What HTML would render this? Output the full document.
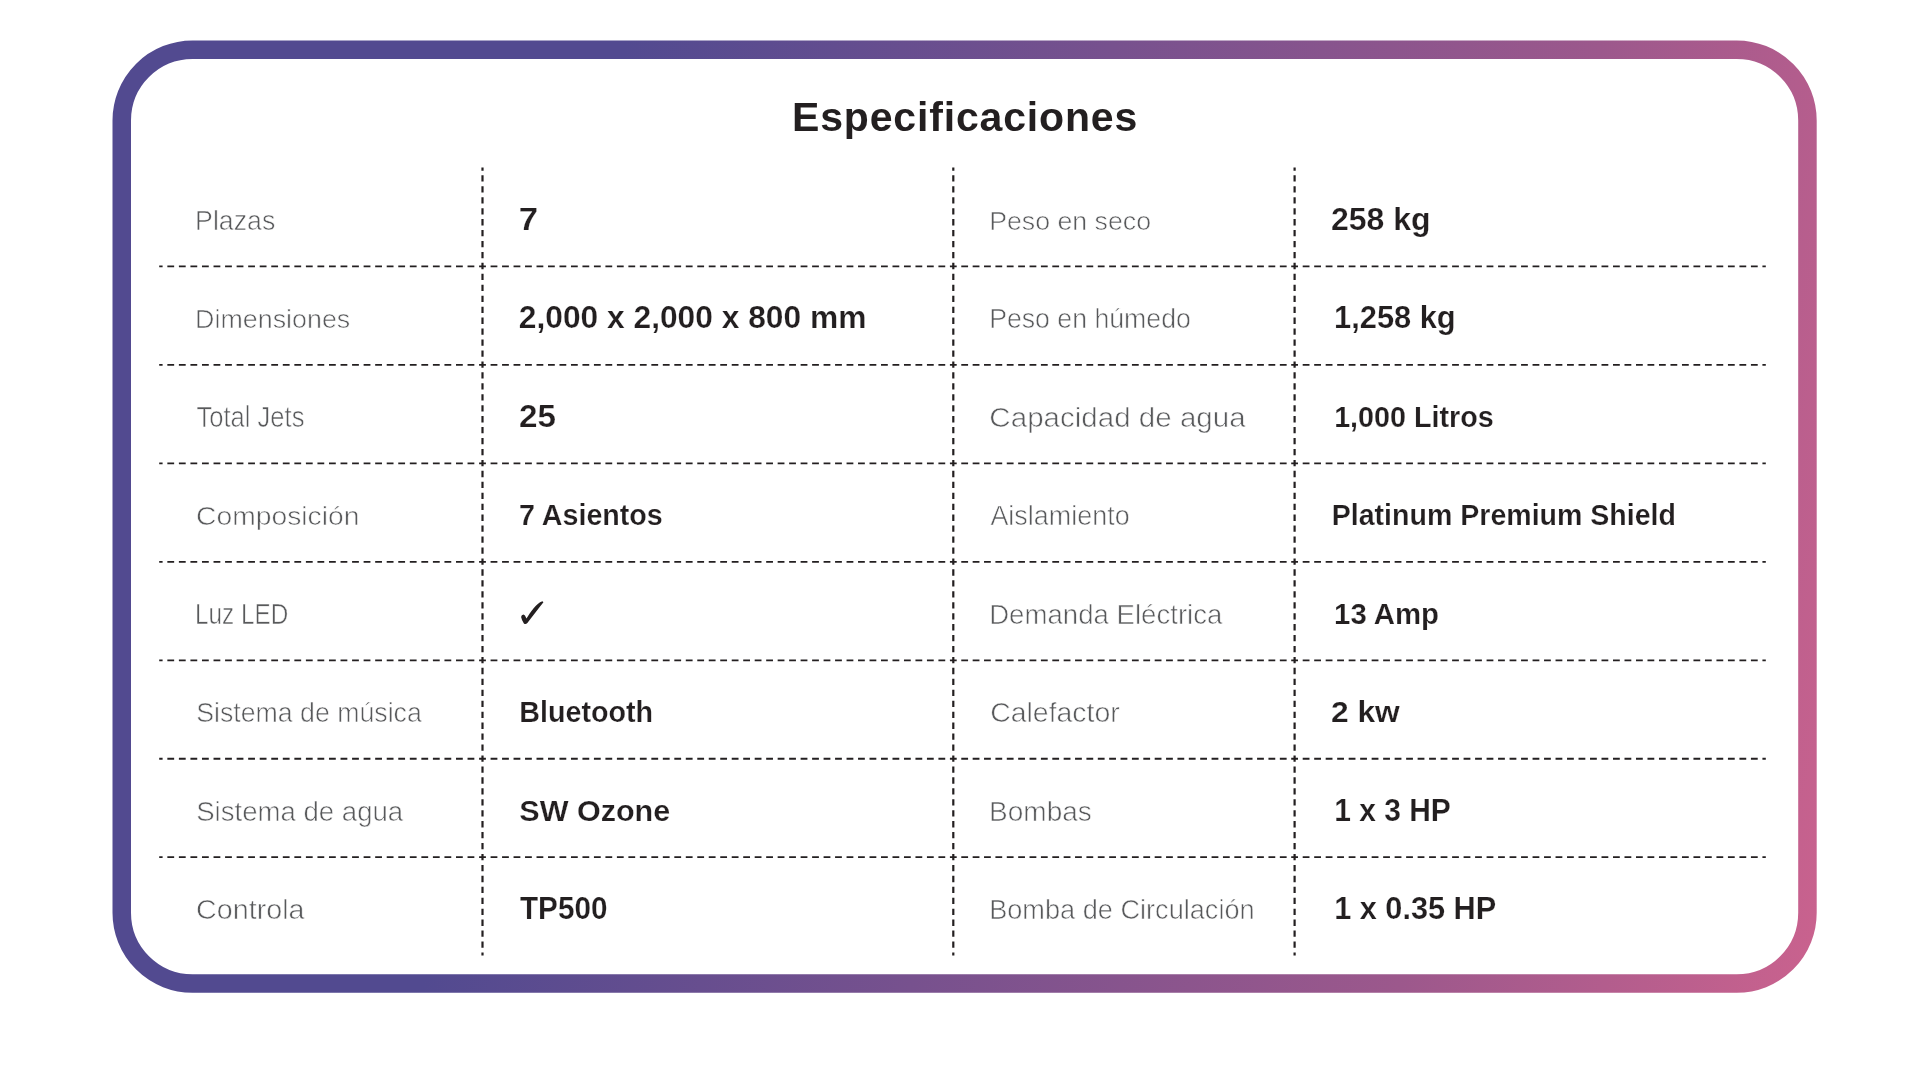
<!DOCTYPE html>
<html><head><meta charset="utf-8"><title>Especificaciones</title>
<style>
html,body{margin:0;padding:0;background:#fff;width:1920px;height:1080px;overflow:hidden;}
svg{position:absolute;left:0;top:0;display:block;will-change:transform;}
text{font-family:"Liberation Sans", sans-serif;}
</style></head><body>
<svg width="1920" height="1080" viewBox="0 0 1920 1080">
<defs><linearGradient id="bg" gradientUnits="userSpaceOnUse" x1="606.4" y1="130" x2="1930.6" y2="413.8"><stop offset="0" stop-color="#524a90"/><stop offset="0.705" stop-color="#9c588c"/><stop offset="1" stop-color="#c9628e"/></linearGradient></defs>
<rect x="121.75" y="49.75" width="1685.7" height="933.8" rx="70.75" ry="70.75" fill="none" stroke="url(#bg)" stroke-width="18.5"/>
<line x1="159.2" y1="266.40" x2="482.5" y2="266.40" stroke="#231f20" stroke-width="1.8" stroke-dasharray="6.8 4.746" stroke-dashoffset="3.4"/>
<line x1="482.5" y1="266.40" x2="953.3" y2="266.40" stroke="#231f20" stroke-width="1.8" stroke-dasharray="6.8 4.683" stroke-dashoffset="3.4"/>
<line x1="953.3" y1="266.40" x2="1294.6" y2="266.40" stroke="#231f20" stroke-width="1.8" stroke-dasharray="6.8 4.577" stroke-dashoffset="3.4"/>
<line x1="1294.6" y1="266.40" x2="1765.8" y2="266.40" stroke="#231f20" stroke-width="1.8" stroke-dasharray="6.8 4.693" stroke-dashoffset="3.4"/>
<line x1="159.2" y1="364.87" x2="482.5" y2="364.87" stroke="#231f20" stroke-width="1.8" stroke-dasharray="6.8 4.746" stroke-dashoffset="3.4"/>
<line x1="482.5" y1="364.87" x2="953.3" y2="364.87" stroke="#231f20" stroke-width="1.8" stroke-dasharray="6.8 4.683" stroke-dashoffset="3.4"/>
<line x1="953.3" y1="364.87" x2="1294.6" y2="364.87" stroke="#231f20" stroke-width="1.8" stroke-dasharray="6.8 4.577" stroke-dashoffset="3.4"/>
<line x1="1294.6" y1="364.87" x2="1765.8" y2="364.87" stroke="#231f20" stroke-width="1.8" stroke-dasharray="6.8 4.693" stroke-dashoffset="3.4"/>
<line x1="159.2" y1="463.34" x2="482.5" y2="463.34" stroke="#231f20" stroke-width="1.8" stroke-dasharray="6.8 4.746" stroke-dashoffset="3.4"/>
<line x1="482.5" y1="463.34" x2="953.3" y2="463.34" stroke="#231f20" stroke-width="1.8" stroke-dasharray="6.8 4.683" stroke-dashoffset="3.4"/>
<line x1="953.3" y1="463.34" x2="1294.6" y2="463.34" stroke="#231f20" stroke-width="1.8" stroke-dasharray="6.8 4.577" stroke-dashoffset="3.4"/>
<line x1="1294.6" y1="463.34" x2="1765.8" y2="463.34" stroke="#231f20" stroke-width="1.8" stroke-dasharray="6.8 4.693" stroke-dashoffset="3.4"/>
<line x1="159.2" y1="561.81" x2="482.5" y2="561.81" stroke="#231f20" stroke-width="1.8" stroke-dasharray="6.8 4.746" stroke-dashoffset="3.4"/>
<line x1="482.5" y1="561.81" x2="953.3" y2="561.81" stroke="#231f20" stroke-width="1.8" stroke-dasharray="6.8 4.683" stroke-dashoffset="3.4"/>
<line x1="953.3" y1="561.81" x2="1294.6" y2="561.81" stroke="#231f20" stroke-width="1.8" stroke-dasharray="6.8 4.577" stroke-dashoffset="3.4"/>
<line x1="1294.6" y1="561.81" x2="1765.8" y2="561.81" stroke="#231f20" stroke-width="1.8" stroke-dasharray="6.8 4.693" stroke-dashoffset="3.4"/>
<line x1="159.2" y1="660.28" x2="482.5" y2="660.28" stroke="#231f20" stroke-width="1.8" stroke-dasharray="6.8 4.746" stroke-dashoffset="3.4"/>
<line x1="482.5" y1="660.28" x2="953.3" y2="660.28" stroke="#231f20" stroke-width="1.8" stroke-dasharray="6.8 4.683" stroke-dashoffset="3.4"/>
<line x1="953.3" y1="660.28" x2="1294.6" y2="660.28" stroke="#231f20" stroke-width="1.8" stroke-dasharray="6.8 4.577" stroke-dashoffset="3.4"/>
<line x1="1294.6" y1="660.28" x2="1765.8" y2="660.28" stroke="#231f20" stroke-width="1.8" stroke-dasharray="6.8 4.693" stroke-dashoffset="3.4"/>
<line x1="159.2" y1="758.75" x2="482.5" y2="758.75" stroke="#231f20" stroke-width="1.8" stroke-dasharray="6.8 4.746" stroke-dashoffset="3.4"/>
<line x1="482.5" y1="758.75" x2="953.3" y2="758.75" stroke="#231f20" stroke-width="1.8" stroke-dasharray="6.8 4.683" stroke-dashoffset="3.4"/>
<line x1="953.3" y1="758.75" x2="1294.6" y2="758.75" stroke="#231f20" stroke-width="1.8" stroke-dasharray="6.8 4.577" stroke-dashoffset="3.4"/>
<line x1="1294.6" y1="758.75" x2="1765.8" y2="758.75" stroke="#231f20" stroke-width="1.8" stroke-dasharray="6.8 4.693" stroke-dashoffset="3.4"/>
<line x1="159.2" y1="857.22" x2="482.5" y2="857.22" stroke="#231f20" stroke-width="1.8" stroke-dasharray="6.8 4.746" stroke-dashoffset="3.4"/>
<line x1="482.5" y1="857.22" x2="953.3" y2="857.22" stroke="#231f20" stroke-width="1.8" stroke-dasharray="6.8 4.683" stroke-dashoffset="3.4"/>
<line x1="953.3" y1="857.22" x2="1294.6" y2="857.22" stroke="#231f20" stroke-width="1.8" stroke-dasharray="6.8 4.577" stroke-dashoffset="3.4"/>
<line x1="1294.6" y1="857.22" x2="1765.8" y2="857.22" stroke="#231f20" stroke-width="1.8" stroke-dasharray="6.8 4.693" stroke-dashoffset="3.4"/>
<line x1="482.5" y1="167.50" x2="482.5" y2="955.60" stroke="#231f20" stroke-width="2.2" stroke-dasharray="6.3 4.646" stroke-dashoffset="3.15"/>
<line x1="953.3" y1="167.50" x2="953.3" y2="955.60" stroke="#231f20" stroke-width="2.2" stroke-dasharray="6.3 4.646" stroke-dashoffset="3.15"/>
<line x1="1294.6" y1="167.50" x2="1294.6" y2="955.60" stroke="#231f20" stroke-width="2.2" stroke-dasharray="6.3 4.646" stroke-dashoffset="3.15"/>
<text x="791.96" y="131.40" font-size="41.0" font-weight="700" fill="#231f20" textLength="345.26" lengthAdjust="spacing">Especificaciones</text>
<text x="195.10" y="229.60" font-size="27.84" font-weight="400" fill="#58595b" stroke="#fff" stroke-width="0.6" textLength="80.17" lengthAdjust="spacingAndGlyphs">Plazas</text>
<text x="518.86" y="229.60" font-size="31.07" font-weight="700" fill="#231f20" stroke="#fff" stroke-width="0.2" textLength="19.33" lengthAdjust="spacingAndGlyphs">7</text>
<text x="989.13" y="229.60" font-size="26.64" font-weight="400" fill="#58595b" stroke="#fff" stroke-width="0.6" textLength="161.93" lengthAdjust="spacingAndGlyphs">Peso en seco</text>
<text x="1330.97" y="229.60" font-size="30.62" font-weight="700" fill="#231f20" stroke="#fff" stroke-width="0.2" textLength="99.48" lengthAdjust="spacingAndGlyphs">258 kg</text>
<text x="195.13" y="328.10" font-size="26.59" font-weight="400" fill="#58595b" stroke="#fff" stroke-width="0.6" textLength="155.11" lengthAdjust="spacingAndGlyphs">Dimensiones</text>
<text x="518.79" y="328.10" font-size="30.45" font-weight="700" fill="#231f20" stroke="#fff" stroke-width="0.2" textLength="347.63" lengthAdjust="spacingAndGlyphs">2,000 x 2,000 x 800 mm</text>
<text x="989.16" y="328.10" font-size="27.45" font-weight="400" fill="#58595b" stroke="#fff" stroke-width="0.6" textLength="201.67" lengthAdjust="spacingAndGlyphs">Peso en húmedo</text>
<text x="1334.12" y="328.10" font-size="30.7" font-weight="700" fill="#231f20" stroke="#fff" stroke-width="0.2" textLength="121.57" lengthAdjust="spacingAndGlyphs">1,258 kg</text>
<text x="196.38" y="426.60" font-size="28.73" font-weight="400" fill="#58595b" stroke="#fff" stroke-width="0.6" textLength="108.06" lengthAdjust="spacingAndGlyphs">Total Jets</text>
<text x="518.94" y="426.60" font-size="31.07" font-weight="700" fill="#231f20" stroke="#fff" stroke-width="0.2" textLength="36.92" lengthAdjust="spacingAndGlyphs">25</text>
<text x="989.38" y="426.60" font-size="27.52" font-weight="400" fill="#58595b" stroke="#fff" stroke-width="0.6" textLength="256.24" lengthAdjust="spacingAndGlyphs">Capacidad de agua</text>
<text x="1334.15" y="426.60" font-size="30.1" font-weight="700" fill="#231f20" stroke="#fff" stroke-width="0.2" textLength="159.67" lengthAdjust="spacingAndGlyphs">1,000 Litros</text>
<text x="196.14" y="525.10" font-size="26.59" font-weight="400" fill="#58595b" stroke="#fff" stroke-width="0.6" textLength="163.31" lengthAdjust="spacingAndGlyphs">Composición</text>
<text x="518.98" y="525.10" font-size="29.25" font-weight="700" fill="#231f20" stroke="#fff" stroke-width="0.2" textLength="143.84" lengthAdjust="spacingAndGlyphs">7 Asientos</text>
<text x="990.38" y="525.10" font-size="27.55" font-weight="400" fill="#58595b" stroke="#fff" stroke-width="0.6" textLength="139.25" lengthAdjust="spacingAndGlyphs">Aislamiento</text>
<text x="1331.78" y="525.10" font-size="29.41" font-weight="700" fill="#231f20" stroke="#fff" stroke-width="0.2" textLength="344.23" lengthAdjust="spacingAndGlyphs">Platinum Premium Shield</text>
<text x="195.08" y="623.60" font-size="29.11" font-weight="400" fill="#58595b" stroke="#fff" stroke-width="0.6" textLength="93.19" lengthAdjust="spacingAndGlyphs">Luz LED</text>
<text x="989.16" y="623.60" font-size="27.74" font-weight="400" fill="#58595b" stroke="#fff" stroke-width="0.6" textLength="233.26" lengthAdjust="spacingAndGlyphs">Demanda Eléctrica</text>
<text x="1334.12" y="623.60" font-size="30.1" font-weight="700" fill="#231f20" stroke="#fff" stroke-width="0.2" textLength="104.93" lengthAdjust="spacingAndGlyphs">13 Amp</text>
<text x="196.17" y="722.10" font-size="27.19" font-weight="400" fill="#58595b" stroke="#fff" stroke-width="0.6" textLength="225.65" lengthAdjust="spacingAndGlyphs">Sistema de música</text>
<text x="519.34" y="722.10" font-size="29.97" font-weight="700" fill="#231f20" stroke="#fff" stroke-width="0.2" textLength="133.71" lengthAdjust="spacingAndGlyphs">Bluetooth</text>
<text x="990.15" y="722.10" font-size="28.12" font-weight="400" fill="#58595b" stroke="#fff" stroke-width="0.6" textLength="129.67" lengthAdjust="spacingAndGlyphs">Calefactor</text>
<text x="1330.98" y="722.10" font-size="30.28" font-weight="700" fill="#231f20" stroke="#fff" stroke-width="0.2" textLength="68.82" lengthAdjust="spacingAndGlyphs">2 kw</text>
<text x="196.16" y="820.60" font-size="27.35" font-weight="400" fill="#58595b" stroke="#fff" stroke-width="0.6" textLength="207.05" lengthAdjust="spacingAndGlyphs">Sistema de agua</text>
<text x="519.37" y="820.60" font-size="29.57" font-weight="700" fill="#231f20" stroke="#fff" stroke-width="0.2" textLength="150.85" lengthAdjust="spacingAndGlyphs">SW Ozone</text>
<text x="989.10" y="820.60" font-size="27.84" font-weight="400" fill="#58595b" stroke="#fff" stroke-width="0.6" textLength="102.76" lengthAdjust="spacingAndGlyphs">Bombas</text>
<text x="1334.15" y="820.60" font-size="30.62" font-weight="700" fill="#231f20" stroke="#fff" stroke-width="0.2" textLength="116.67" lengthAdjust="spacingAndGlyphs">1 x 3 HP</text>
<text x="196.12" y="919.10" font-size="28.02" font-weight="400" fill="#58595b" stroke="#fff" stroke-width="0.6" textLength="108.34" lengthAdjust="spacingAndGlyphs">Controla</text>
<text x="520.00" y="919.10" font-size="31.07" font-weight="700" fill="#231f20" stroke="#fff" stroke-width="0.2" textLength="87.42" lengthAdjust="spacingAndGlyphs">TP500</text>
<text x="989.16" y="919.10" font-size="27.57" font-weight="400" fill="#58595b" stroke="#fff" stroke-width="0.6" textLength="265.47" lengthAdjust="spacingAndGlyphs">Bomba de Circulación</text>
<text x="1334.16" y="919.10" font-size="30.75" font-weight="700" fill="#231f20" stroke="#fff" stroke-width="0.2" textLength="162.06" lengthAdjust="spacingAndGlyphs">1 x 0.35 HP</text>
<path d="M521.11 617.08 Q521.34 614.54 523.43 614.54 Q525.05 614.77 526.44 618.47 C530.83 611.76 535.93 603.43 542.41 601.20 L543.43 602.13 C538.24 608.52 532.69 615.93 527.36 623.10 Q525.51 624.95 523.89 623.43 Q521.81 620.79 521.11 617.08 Z" fill="#231f20"/>
</svg>
</body></html>
